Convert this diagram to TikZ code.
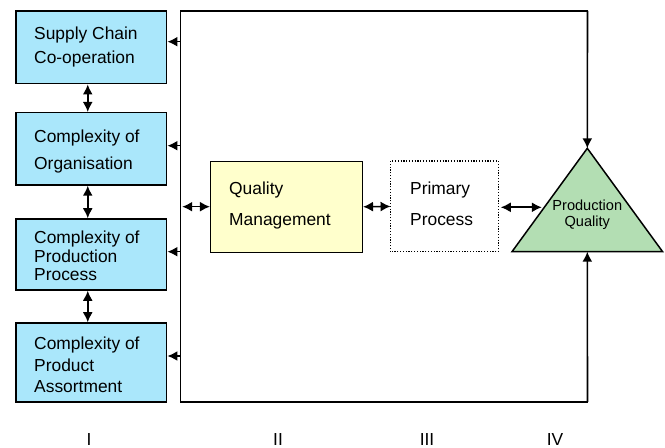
\documentclass[tikz,border=0pt]{standalone}
\usepackage{fontspec}
\setmainfont{Liberation Sans}
\usetikzlibrary{arrows.meta}
\definecolor{boxblue}{HTML}{AAE7FB}
\definecolor{boxyellow}{HTML}{FFFFCC}
\definecolor{trigreen}{HTML}{B3DEB3}
\begin{document}
\begin{tikzpicture}[x=1bp,y=-1bp,
  factor/.style={draw,line width=1.5bp,fill=boxblue,minimum width=150.7bp,inner sep=0pt},
  central/.style={draw,line width=1.5bp,minimum width=151.6bp,minimum height=91bp,inner sep=0pt},
  txt/.style={anchor=base west,inner sep=0pt,font=\fontsize{17.4bp}{20bp}\selectfont},
  smalltxt/.style={anchor=base,inner sep=0pt,font=\fontsize{14.6bp}{17bp}\selectfont},
  link/.style={line width=1.6bp,-{Latex[length=10bp,width=10bp]}},
  duplex/.style={line width=1.6bp,{Latex[length=10bp,width=10bp]}-{Latex[length=10bp,width=10bp]}},
]
\useasboundingbox (0,0) rectangle (665,448);

% outer frame, open on the right where the arrows meet the triangle
\node[minimum width=406.6bp,minimum height=390.7bp,inner sep=0pt] (frame) at (384.0,206.35) {};
\draw[line width=1.9bp,line cap=rect,line join=miter]
  (frame.north east) -- (frame.north west) -- (frame.south west) -- (frame.south east);

% influencing factors (column I)
\node[factor,minimum height=72.7bp] (b1) at (91.35,47.35) {};
\node[factor,minimum height=72.3bp] (b2) at (91.35,148.85) {};
\node[factor,minimum height=71bp]   (b3) at (91.35,254.5) {};
\node[factor,minimum height=79bp]   (b4) at (91.35,362.5) {};

\node[txt] (b1a) at (34,39.3) {Supply Chain};
\node[txt] (b1b) at (34,64) {Co-operation};
\node[txt] (b2a) at (34,142.7) {Complexity of};
\node[txt] (b2b) at (34,170) {Organisation};
\node[txt] (b3a) at (34,243.3) {Complexity of};
\node[txt] (b3b) at (34,262.3) {Production};
\node[txt] (b3c) at (34,281) {Process};
\node[txt] (b4a) at (34,349.3) {Complexity of};
\node[txt] (b4b) at (34,371.7) {Product};
\node[txt] (b4c) at (34,392.3) {Assortment};

% quality management and primary process
\node[central,fill=boxyellow] (qm) at (286.5,206.8) {};
\node[central,draw=none,minimum width=106.2bp,minimum height=89.3bp] (pp) at (444.4,206.4) {};
\draw[line width=1.2bp,dash pattern=on 1.2bp off 1.6bp] (pp.south west) rectangle (pp.north east);
\node[txt] (qma) at (229,194.3) {Quality};
\node[txt] (qmb) at (229,226) {Management};
\node[txt] (ppa) at (410,194.3) {Primary};
\node[txt] (ppb) at (410,226) {Process};

% production quality triangle
\coordinate (apex) at (587.3,148.3);
\coordinate (bl) at (512,251.7);
\coordinate (br) at (662.6,251.7);
\draw[line width=1.5bp,fill=trigreen,line join=miter] (apex) -- (bl) -- (br) -- cycle;
\node[smalltxt] (pqa) at (587.3,210.3) {Production};
\node[smalltxt] (pqb) at (587.3,226.7) {Quality};

% feedback from the frame to the factors
\coordinate (f1) at (180.7,41.7);
\coordinate (f2) at (180.7,145.7);
\coordinate (f3) at (180.7,251.7);
\coordinate (f4) at (180.7,356);
\coordinate (f0) at (180.7,206.7);
\foreach \i in {1,2,3,4}
  \draw[link] (f\i) -- (f\i -| b\i.east);

% links between the factors
\draw[duplex] ([xshift=-3.6bp]b1.south) -- ([xshift=-3.6bp]b2.north);
\draw[duplex] ([xshift=-3.6bp]b2.south) -- ([xshift=-3.6bp]b3.north);
\draw[duplex] ([xshift=-3.6bp]b3.south) -- ([xshift=-3.6bp]b4.north);

% chain towards production quality
\coordinate (te) at (541.8,207.3);
\draw[duplex] ([xshift=1.5bp]f0) -- (f0 -| qm.west);
\draw[duplex] (qm.east) -- (pp.west);
\draw[duplex] ([xshift=2.5bp]pp.east |- te) -- (te);
\draw[link] (frame.north east) -- (apex);
\draw[link] (frame.south east) -- (apex |- bl);

% column labels
\node[smalltxt,font=\fontsize{17.4bp}{20bp}\selectfont] (c1) at (89,445.5) {I};
\node[smalltxt,font=\fontsize{17.4bp}{20bp}\selectfont] (c2) at (278,445.5) {II};
\node[smalltxt,font=\fontsize{17.4bp}{20bp}\selectfont] (c3) at (427,445.5) {III};
\node[smalltxt,font=\fontsize{17.4bp}{20bp}\selectfont] (c4) at (555,445.5) {IV};
\end{tikzpicture}
\end{document}
